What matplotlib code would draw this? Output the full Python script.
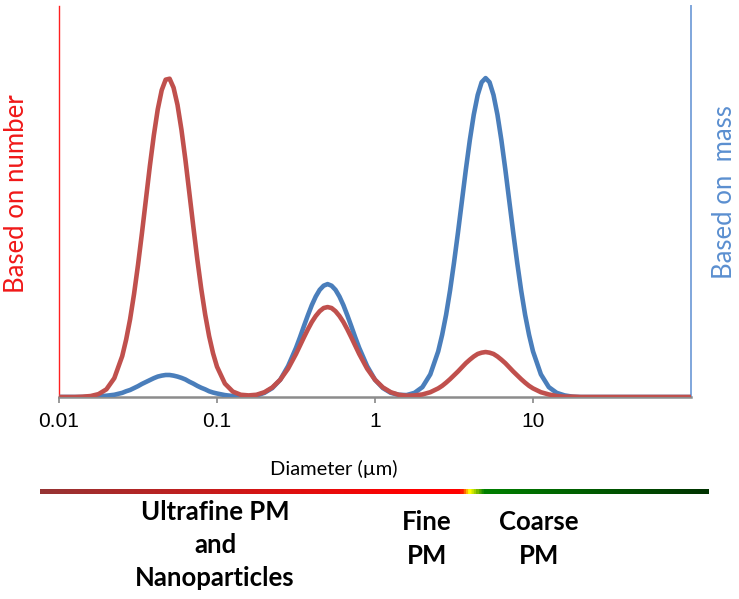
import numpy as np
import matplotlib
matplotlib.use("Agg")
import matplotlib.pyplot as plt
from matplotlib.colors import LinearSegmentedColormap

# size distributions (log10 of diameter in um, % of tallest peak)
log_diam = [-2.00, -1.95, -1.90, -1.85, -1.80, -1.75, -1.70, -1.65,
            -1.60, -1.575, -1.55, -1.525, -1.50, -1.475, -1.45, -1.425, -1.40,
            -1.375, -1.35, -1.325, -1.30, -1.275, -1.25, -1.225, -1.20, -1.175,
            -1.15, -1.125, -1.10, -1.075, -1.05, -1.025, -1.00,
            -0.95, -0.90, -0.85, -0.80, -0.75, -0.70, -0.65, -0.60, -0.55,
            -0.50, -0.475, -0.45, -0.425, -0.40, -0.375, -0.35, -0.325, -0.30,
            -0.275, -0.25, -0.225, -0.20, -0.175, -0.15, -0.125, -0.10,
            -0.05, 0.00, 0.05, 0.10, 0.15, 0.20, 0.25, 0.30, 0.35,
            0.40, 0.425, 0.45, 0.475, 0.50, 0.525, 0.55, 0.575, 0.60, 0.625,
            0.65, 0.675, 0.70, 0.725, 0.75, 0.775, 0.80, 0.825, 0.85, 0.875,
            0.90, 0.925, 0.95, 0.975, 1.00,
            1.05, 1.10, 1.15, 1.20, 1.25, 1.30, 1.35, 2.00]
by_number = [0.0, 0.0, 0.0, 0.1, 0.3, 0.9, 2.4, 5.9,
             12.8, 18.0, 24.4, 32.3, 41.4, 51.4, 61.9, 72.4, 82.0,
             90.2, 96.2, 99.5, 99.8, 97.0, 91.6, 83.8, 74.4, 64.0,
             53.5, 43.3, 34.0, 25.9, 19.1, 13.7, 9.5,
             4.2, 1.7, 0.7, 0.5, 0.7, 1.5, 3.0, 5.4, 8.9,
             13.5, 16.1, 18.7, 21.2, 23.5, 25.4, 26.9, 27.9, 28.2,
             27.9, 26.9, 25.4, 23.5, 21.2, 18.7, 16.1, 13.5,
             8.9, 5.4, 3.0, 1.5, 0.7, 0.4, 0.5, 0.8, 1.5,
             2.7, 3.5, 4.5, 5.6, 6.8, 8.0, 9.3, 10.6, 11.7, 12.7,
             13.5, 13.9, 14.1, 13.9, 13.5, 12.7, 11.7, 10.6, 9.3, 8.0,
             6.8, 5.6, 4.5, 3.5, 2.7,
             1.5, 0.8, 0.3, 0.1, 0.1, 0.0, 0.0, 0.0]
by_mass = [0.0, 0.0, 0.0, 0.0, 0.1, 0.2, 0.4, 0.7,
           1.3, 1.8, 2.2, 2.8, 3.4, 4.1, 4.7, 5.3, 5.9,
           6.4, 6.7, 6.9, 6.9, 6.7, 6.4, 6.0, 5.5, 4.8,
           4.2, 3.5, 2.9, 2.4, 1.8, 1.4, 1.1,
           0.6, 0.3, 0.2, 0.2, 0.5, 1.3, 2.8, 5.4, 9.7,
           15.4, 18.7, 22.2, 25.6, 28.8, 31.5, 33.6, 34.9, 35.4,
           34.9, 33.6, 31.5, 28.8, 25.6, 22.2, 18.7, 15.4,
           9.7, 5.4, 2.8, 1.3, 0.7, 0.6, 1.3, 3.1, 7.1,
           14.3, 19.5, 25.8, 33.4, 42.1, 51.5, 61.4, 71.3, 80.5, 88.5,
           94.7, 98.7, 100.0, 98.7, 94.7, 88.5, 80.5, 71.3, 61.4, 51.5,
           42.1, 33.4, 25.8, 19.5, 14.3,
           7.1, 3.1, 1.3, 0.5, 0.1, 0.0, 0.0, 0.0]

tick_vals = [0.01, 0.1, 1, 10]
tick_labels = ["0.01", "0.1", "1", "10"]

diam = 10 ** np.array(log_diam)

fig = plt.figure(figsize=(7.39, 5.99), dpi=100)
ax = fig.add_axes([59 / 739, 1 - 397 / 599, 632 / 739, 391 / 599])

ax.plot(diam, by_mass, color="#4a7ebb", lw=3.3, solid_capstyle="round",
        solid_joinstyle="round", zorder=3)
ax.plot(diam, by_number, color="#c0504d", lw=3.3, solid_capstyle="round",
        solid_joinstyle="round", zorder=4)

ax.set_xscale("log")
ax.set_xlim(0.01, 100)
ax.set_ylim(0, 122.6)
ax.set_xticks(tick_vals)
ax.set_xticklabels(tick_labels, fontsize=15, family="Liberation Sans")
ax.minorticks_off()
ax.set_yticks([])
ax.tick_params(axis="x", direction="out", length=4, width=1.2, color="#888888", pad=7)

ax.spines["top"].set_visible(False)
ax.spines["left"].set_color("#ff2020")
ax.spines["left"].set_linewidth(1.0)
ax.spines["right"].set_color("#7fa6dc")
ax.spines["right"].set_linewidth(1.4)
ax.spines["bottom"].set_color("#8c8c8c")
ax.spines["bottom"].set_linewidth(1.8)

fig.text(17 / 739, 1 - 194 / 599, "Based on number", rotation=90, color="#f01818",
         fontsize=18.5, family="Lato", ha="center", va="center")
fig.text(724 / 739, 1 - 192 / 599, "Based on  mass", rotation=90, color="#5b8fd0",
         fontsize=18.5, family="Lato", ha="center", va="center")

fig.text(334 / 739, 1 - 469 / 599, "Diameter (\u00b5m)", fontsize=14.5,
         family=["Lato", "DejaVu Sans"], ha="center", va="center")

# size-class colour bar
bar_cmap = LinearSegmentedColormap.from_list(
    "pm", [(0.0, "#963434"), (0.55, "#ff0000"), (0.63, "#ff0000"),
           (0.643, "#ffff00"), (0.665, "#008000"), (1.0, "#003300")])
bax = fig.add_axes([40 / 739, 1 - 494 / 599, 669 / 739, 5 / 599])
bax.imshow(np.linspace(0, 1, 600).reshape(1, -1), aspect="auto", cmap=bar_cmap,
           extent=[0, 1, 0, 1])
bax.axis("off")

for txt, x, y in [("Ultrafine PM\nand\nNanoparticles", 215, 545),
                  ("Fine\nPM", 427, 539), ("Coarse\nPM", 539, 539)]:
    fig.text(x / 739, 1 - y / 599, txt, fontsize=18.5, family="Lato", weight="bold",
             ha="center", va="center", linespacing=1.45)

fig.savefig("out.png", dpi=100)
